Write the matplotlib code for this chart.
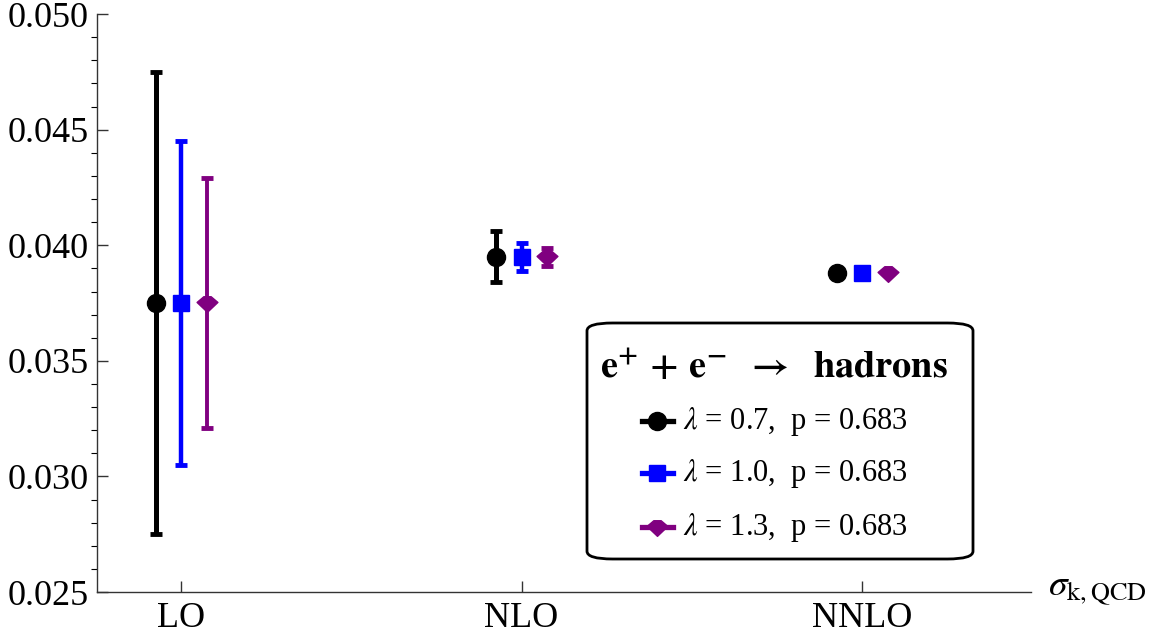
import matplotlib
matplotlib.use("Agg")
import matplotlib.pyplot as plt
from matplotlib.path import Path
from matplotlib.patches import FancyBboxPatch
from matplotlib.lines import Line2D
from matplotlib.ticker import MultipleLocator, FormatStrFormatter
import numpy as np

plt.rcParams["font.family"] = ["Liberation Serif", "DejaVu Serif"]
plt.rcParams["mathtext.fontset"] = "stix"

# data
orders = ["LO", "NLO", "NNLO"]
labels = [r"$\lambda$ = 0.7,  p = 0.683",
          r"$\lambda$ = 1.0,  p = 0.683",
          r"$\lambda$ = 1.3,  p = 0.683"]
central_07 = [0.0375, 0.0395, 0.0388]
err_07 = [0.0100, 0.0011, 0.00005]
central_10 = [0.0375, 0.0395, 0.0388]
err_10 = [0.0070, 0.0006, 0.00005]
central_13 = [0.0375, 0.0395, 0.0388]
err_13 = [0.0054, 0.0004, 0.00005]

# diamond with flattened top, like Mathematica's
diamond = Path([(-1.0, 0.1), (-0.35, 0.65), (0.35, 0.65), (1.0, 0.1),
                (0.0, -0.85), (-1.0, 0.1)],
               [Path.MOVETO] + [Path.LINETO] * 4 + [Path.CLOSEPOLY])

fig = plt.figure(figsize=(11.61, 6.41), dpi=100)
ax = fig.add_axes([0.0835, 0.0764, 0.8045, 0.9016])

x = np.arange(1, len(orders) + 1)
series = [
    (central_07, err_07, "black", "o", 13, -0.075, 3.6),
    (central_10, err_10, "#0000ff", "s", 12, 0.0, 3.2),
    (central_13, err_13, "#800080", diamond, 15, 0.075, 2.8),
]
for c, e, col, mk, ms, dx, lw in series:
    ax.errorbar(x + dx, c, yerr=e, marker=mk, linestyle="none", color=col,
                ms=ms, elinewidth=lw, capsize=4.5, capthick=3.5)

ax.set_xlim(0.753, 3.496)
ax.set_ylim(0.025, 0.050)
ax.set_xticks(x)
ax.set_xticklabels(orders)
ax.yaxis.set_major_locator(MultipleLocator(0.005))
ax.yaxis.set_minor_locator(MultipleLocator(0.001))
ax.yaxis.set_major_formatter(FormatStrFormatter("%.3f"))
ax.tick_params(axis="both", direction="in", labelsize=26, color="#333333",
               width=1.0)
ax.tick_params(axis="y", which="major", length=8, pad=6)
ax.tick_params(axis="y", which="minor", length=4, width=0.8)
ax.tick_params(axis="x", which="major", length=8, pad=7)
for side in ["top", "right"]:
    ax.spines[side].set_visible(False)
for side in ["left", "bottom"]:
    ax.spines[side].set_color("#333333")
    ax.spines[side].set_linewidth(1.0)

ax.text(1.018, 0.004, r"$\sigma_{\mathrm{k,QCD}}$", transform=ax.transAxes,
        fontsize=27, ha="left", va="center")

# legend box drawn by hand (Mathematica-style, indented entries)
W, H = 1161, 641
box = FancyBboxPatch((587 / W, 1 - 559 / H), 386 / W, 236 / H,
                     boxstyle="round,pad=0,rounding_size=0.022",
                     transform=fig.transFigure, facecolor="white",
                     edgecolor="black", linewidth=2.0, mutation_aspect=H / W)
fig.patches.append(box)
fig.text(600 / W, 1 - 368 / H,
         r"$\mathbf{e^{+}\,+\,e^{-}\ \ \rightarrow\ \ hadrons}$",
         fontsize=27.5, ha="left", va="center")
entry_y = [421, 473, 527]
for (c, e, col, mk, ms, dx, lw), lab, yy in zip(series, labels, entry_y):
    fy = 1 - yy / H
    fig.add_artist(Line2D([642 / W, 673 / W], [fy, fy], color=col, lw=3.8,
                          transform=fig.transFigure))
    fig.add_artist(Line2D([657 / W], [fy], color=col, marker=mk, ms=ms,
                          linestyle="none", transform=fig.transFigure))
    fig.text(683 / W, fy, lab, fontsize=22, ha="left", va="center")

fig.savefig("out.png", dpi=100)
